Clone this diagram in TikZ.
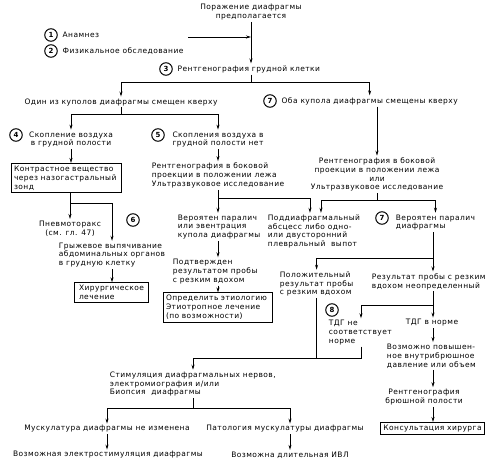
\documentclass[tikz,border=0pt]{standalone}
\usepackage{fontspec}
\setmainfont{DejaVu Sans}[LetterSpace=6.0]
\usetikzlibrary{arrows.meta}
\begin{document}
\begin{tikzpicture}[x=1pt, y=-1pt, >={Stealth[length=5pt, width=3pt]}, line width=0.8pt,
  txt/.style={font=\fontsize{7.5}{8.8}\selectfont, inner sep=1.5pt},
  num/.style={circle, draw, line width=1pt, inner sep=0pt, minimum size=12.5pt,
    font=\fontsize{7}{8}\selectfont\bfseries},
  box/.style={txt, draw, line width=1pt, inner xsep=3pt, inner ysep=2.5pt}]

  \useasboundingbox (0,0) rectangle (490,463);

  % --- 1. Исходное предположение, анамнез, осмотр ---
  \node[txt, align=center] (suspect) at (251,12) {Поражение диафрагмы\\предполагается};
  \node[num] (c1) at (51,35) {1};
  \node[txt, anchor=west] (anamnesis) at ([xshift=3pt]c1.east) {Анамнез};
  \node[num] (c2) at (51,51) {2};
  \node[txt, anchor=west] (exam) at ([xshift=3pt]c2.east) {Физикальное обследование};
  \node[num] (c3) at (166,69) {3};
  \node[txt, anchor=west] (xray) at ([xshift=3pt]c3.east) {Рентгенография грудной клетки};

  \coordinate (hist) at (188,37);
  \draw[->] (hist) -- (hist -| suspect.south);
  \draw[->] (suspect.south) -- (suspect.south |- xray.north);

  % --- 2. Один купол или оба ---
  \coordinate (j1) at (251,82);
  \draw (suspect.south |- xray.south) -- (j1);
  \node[txt] (one) at (121,102) {Один из куполов диафрагмы смещен кверху};
  \node[num] (c7a) at (270,101) {7};
  \node[txt, anchor=west] (both) at ([xshift=3pt]c7a.east) {Оба купола диафрагмы смещены кверху};
  \draw[->] (j1) -| (one.north);
  \draw[->] (j1) -| (both.north);

  % --- 3. Левая ветвь: воздух в грудной полости ---
  \coordinate (j2) at (121,114);
  \draw (one.south) -- (j2);
  \node[num] (c4) at (16,135) {4};
  \node[txt, align=center] (air) at (71,139.5) {Скопление воздуха\\в грудной полости};
  \node[num] (c5) at (158,135) {5};
  \node[txt, align=center] (noair) at (218,139.5) {Скопления воздуха в\\грудной полости нет};
  \draw[->] (j2) -| (air.north);
  \draw[->] (j2) -| (noair.north);

  \node[box, align=left, text width=104pt] (contrast) at (66,178) {Контрастное вещество\\через назогастральный\\зонд};
  \draw[->] (air.south) -- (air.south |- contrast.north);

  \node[txt, align=center] (pneumo) at (70,228.5) {Пневмоторакс\\(см. гл. 47)};
  \node[txt, align=left, anchor=west] (hernia) at (57,255) {Грыжевое выпячивание\\абдоминальных органов\\в грудную клетку};
  \coordinate (j4) at (70,203);
  \draw[->] (pneumo.north |- contrast.south) -- (pneumo.north);
  \draw[->] (j4) -| (hernia.north);

  \node[box, align=left, text width=64pt, inner xsep=5pt] (surgery) at (111,292.5) {Хирургическое\\лечение};
  \draw[->] (hernia.south) -- (hernia.south |- surgery.north);

  % --- 4. Средняя ветвь: боковая проекция ---
  \node[txt, align=left] (lateral) at (218,175.5) {Рентгенография в боковой\\проекции в положении лежа\\Ультразвуковое исследование};
  \draw[->] (noair.south) -- (noair.south |- lateral.north);
  \coordinate (j5) at (lateral.south |- 0,198);
  \draw (lateral.south) -- (j5);

  \node[num] (c6) at (133,220) {6};
  \node[txt, align=left, anchor=west] (paral6) at (176,227) {Вероятен паралич\\или эвентрация\\купола диафрагмы};
  \node[txt, align=left, anchor=west] (abscess) at (266,231.5) {Поддиафрагмальный\\абсцесс либо одно-\\или двусторонний\\плевральный\ \ выпот};
  \draw[->] (j5) -- (j5 |- paral6.north);
  \draw[->] (j5) -| ([xshift=-4pt]abscess.north);

  \node[txt, align=left, anchor=west] (confirm) at (171,271.5) {Подтвержден\\результатом пробы\\с резким вдохом};
  \draw[->] (j5 |- paral6.south) -- (j5 |- confirm.north);
  \node[box, align=left, text width=103pt] (etiology) at (217.5,307.5) {Определить этиологию\\Этиотропное лечение\\(по возможности)};
  \draw[->] (j5 |- confirm.south) -- (j5 |- etiology.north);

  % --- 5. Правая ветвь: оба купола ---
  \node[txt, align=center] (lateral2) at (377,174.5) {Рентгенография в боковой\\проекции в положении лежа\\или\\Ультразвуковое исследование};
  \draw[->] (lateral2.north |- both.south) -- (lateral2.north);
  \coordinate (j6) at (lateral2.south |- 0,200);
  \draw (lateral2.south) -- (j6);
  \node[num] (c7b) at (382,218) {7};
  \node[txt, align=left, anchor=west] (paral7) at (394,222.5) {Вероятен паралич\\диафрагмы};
  \draw[->] (j6) -| ([xshift=7pt]abscess.north);
  \draw[->] (j6) -| (paral7.north);

  \coordinate (j7) at (433,258);
  \draw (j7 |- paral7.south) -- (j7);
  \node[txt, align=left, anchor=west] (positive) at (278,284) {Положительный\\результат пробы\\с резким вдохом};
  \node[txt, align=left, anchor=west] (unclear) at (370,281.5) {Результат пробы с резким\\вдохом неопределенный};
  \draw[->] (j7) -| (positive.north);
  \draw[->] (j7) -- (j7 |- unclear.north);

  % --- 6. Трансдиафрагмальное давление ---
  \coordinate (j8) at (433,305);
  \coordinate (j8b) at (361,305);
  \draw (j8 |- unclear.south) -- (j8);
  \node[num] (c8) at (332,310) {8};
  \node[txt, align=left, anchor=west] (tdgbad) at (327,332.5) {ТДГ не\\соответствует\\норме};
  \node[txt] (tdgok) at (432,323) {ТДГ в норме};
  \draw[->] (j8) -- (j8b) -- (j8b |- tdgbad.north);
  \draw[->] (j8) -- (j8 |- tdgok.north);

  % --- 7. Стимуляция и биопсия ---
  \coordinate (j9) at (193,358);
  \draw (positive.south) -- (positive.south |- j9) -- (j9);
  \draw (j8b |- tdgbad.south) -- (j8b |- j9) -- (positive.south |- j9);
  \node[txt, align=left, anchor=west] (stim) at (108,384) {Стимуляция диафрагмальных нервов,\\электромиография и/или\\Биопсия\ \ диафрагмы};
  \draw[->] (j9) -- (j9 |- stim.north);
  \coordinate (j10) at (193,408);
  \draw (j9 |- stim.south) -- (j10);
  \node[txt] (musnorm) at (107,429) {Мускулатура диафрагмы не изменена};
  \node[txt] (muspath) at (285,429) {Патология мускулатуры диафрагмы};
  \node[txt] (elstim) at (108,455) {Возможная электростимуляция диафрагмы};
  \node[txt] (ivl) at (290,455) {Возможна длительная ИВЛ};
  \draw[->] (j10) -| (musnorm.north);
  \draw[->] (j10) -| (ivl.north |- muspath.north);
  \draw[->] (musnorm.south) -- (musnorm.south |- elstim.north);
  \draw[->] (ivl.north |- muspath.south) -- (ivl.north);

  % --- 8. Брюшная полость ---
  \node[txt, align=left, anchor=west] (pressure) at (385,356) {Возможно повышен-\\ное внутрибрюшное\\давление или объем};
  \draw[->] (j8 |- tdgok.south) -- (j8 |- pressure.north);
  \node[txt, align=center] (abdxray) at (424,397) {Рентгенография\\брюшной полости};
  \draw[->] (j8 |- pressure.south) -- (j8 |- abdxray.north);
  \node[box] (surgeon) at (432.5,428.5) {Консультация хирурга};
  \draw[->] (j8 |- abdxray.south) -- (j8 |- surgeon.north);

\end{tikzpicture}
\end{document}
